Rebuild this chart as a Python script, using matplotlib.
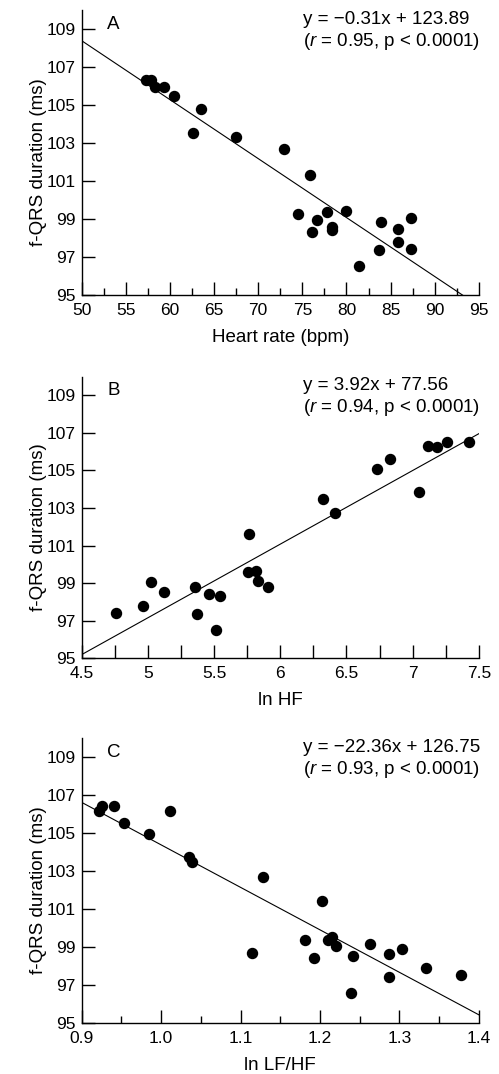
import matplotlib
matplotlib.use('Agg')
import matplotlib.pyplot as plt
from matplotlib.ticker import MultipleLocator, FormatStrFormatter
from matplotlib.transforms import blended_transform_factory
import numpy as np

plt.rcParams['font.family'] = ['Liberation Sans', 'DejaVu Sans']
plt.rcParams['mathtext.fontset'] = 'custom'
plt.rcParams['mathtext.rm'] = 'Liberation Sans'
plt.rcParams['mathtext.it'] = 'Liberation Sans:italic'

# panel A: heart rate vs f-QRS
hr = [57.25, 57.81, 58.3, 59.29, 60.42, 63.48, 62.6, 67.44, 72.95, 75.82,
      74.5, 76.08, 76.61, 77.78, 78.39, 78.39, 79.97, 81.41, 83.9, 83.67,
      85.79, 85.79, 87.34, 87.34]
qrs_a = [106.33, 106.33, 105.96, 105.96, 105.46, 104.81, 103.56, 103.32, 102.68, 101.33,
         99.3, 98.35, 98.95, 99.37, 98.61, 98.44, 99.46, 96.56, 98.86, 97.39,
         98.51, 97.81, 99.05, 97.44]

# panel B: ln HF vs f-QRS
ln_hf = [4.758, 4.963, 5.024, 5.123, 5.358, 5.368, 5.465, 5.546, 5.513, 5.763,
         5.753, 5.814, 5.829, 5.91, 6.323, 6.411, 6.733, 6.832, 7.044, 7.118,
         7.184, 7.259, 7.429]
qrs_b = [97.39, 97.8, 99.04, 98.51, 98.79, 97.34, 98.41, 98.31, 96.52, 101.6,
         99.6, 99.63, 99.14, 98.82, 103.49, 102.75, 105.07, 105.6, 103.83, 106.29,
         106.25, 106.5, 106.53]

# panel C: ln LF/HF vs f-QRS
ln_lfhf = [0.9222, 0.9256, 0.9403, 0.9533, 0.9847, 1.0116, 1.0346, 1.0388, 1.1282, 1.1148,
           1.1815, 1.1924, 1.2024, 1.2104, 1.215, 1.2196, 1.2414, 1.2389, 1.2632, 1.2867,
           1.2863, 1.3035, 1.3337, 1.3769]
qrs_c = [106.18, 106.42, 106.42, 105.53, 104.98, 106.18, 103.77, 103.47, 102.72, 98.72,
         99.4, 98.46, 101.42, 99.39, 99.53, 99.09, 98.54, 96.6, 99.16, 98.65,
         97.42, 98.91, 97.89, 97.56]

slopes = [-0.31, 3.92, -22.36]
intercepts = [123.89, 77.56, 126.75]
eq_text = ['y = \u22120.31x + 123.89', 'y = 3.92x + 77.56', 'y = \u221222.36x + 126.75']
r_text = ['($r$ = 0.95, p < 0.0001)', '($r$ = 0.94, p < 0.0001)', '($r$ = 0.93, p < 0.0001)']
letters = ['A', 'B', 'C']
xlabels = ['Heart rate (bpm)', 'ln HF', 'ln LF/HF']
xlims = [(50, 95), (4.5, 7.5), (0.9, 1.4)]

fig = plt.figure(figsize=(4.99, 10.74), dpi=100)
positions = [[0.1637, 0.7250, 0.796, 0.2656],
             [0.1637, 0.3870, 0.796, 0.2624],
             [0.1637, 0.0472, 0.796, 0.2654]]

xs = [hr, ln_hf, ln_lfhf]
ys = [qrs_a, qrs_b, qrs_c]

for i in range(3):
    ax = fig.add_axes(positions[i])
    ax.plot(xs[i], ys[i], 'o', color='black', ms=7.2, mec='black', zorder=3)
    lx = np.array(xlims[i])
    ax.plot(lx, slopes[i] * lx + intercepts[i], color='black', lw=0.8)
    ax.set_xlim(*xlims[i])
    ax.set_ylim(95, 110)
    ax.spines['top'].set_visible(False)
    ax.spines['right'].set_visible(False)
    for s in ['left', 'bottom']:
        ax.spines[s].set_linewidth(1.0)
    ax.set_yticks([95, 97, 99, 101, 103, 105, 107, 109])
    ax.tick_params(axis='y', direction='in', length=9.4, width=1.0, pad=4.3, labelsize=12.5)
    ax.tick_params(axis='x', which='major', direction='in', length=9.4, width=1.0, pad=5.5, labelsize=12.5)
    if i == 0:
        ax.xaxis.set_major_locator(MultipleLocator(5))
        ax.xaxis.set_minor_locator(MultipleLocator(2.5))
        ax.tick_params(axis='x', which='minor', direction='in', length=4.7, width=1.0)
    elif i == 1:
        ax.xaxis.set_major_locator(MultipleLocator(0.5))
        ax.xaxis.set_major_formatter(FormatStrFormatter('%g'))
        ax.xaxis.set_minor_locator(MultipleLocator(0.25))
        ax.tick_params(axis='x', which='minor', direction='in', length=9.4, width=1.0)
    else:
        ax.xaxis.set_major_locator(MultipleLocator(0.1))
        ax.xaxis.set_major_formatter(FormatStrFormatter('%.1f'))
        ax.xaxis.set_minor_locator(MultipleLocator(0.05))
        ax.tick_params(axis='x', which='minor', direction='in', length=5.0, width=1.0)
    ax.set_xlabel(xlabels[i], fontsize=13.5, labelpad=8)
    ax.set_ylabel('f-QRS duration (ms)', fontsize=13.5)
    ax.yaxis.set_label_coords(-0.087, 0.467)

    tr = blended_transform_factory(ax.transAxes, ax.transData)
    ax.text(0.064, 109, letters[i], transform=tr, fontsize=13.5, va='baseline', ha='left')
    ax.text(0.556, 109.27, eq_text[i], transform=tr, fontsize=13.5, va='baseline', ha='left')
    ax.text(0.556, 108.13, r_text[i], transform=tr, fontsize=13.5, va='baseline', ha='left')

fig.savefig('out.png', dpi=100)
